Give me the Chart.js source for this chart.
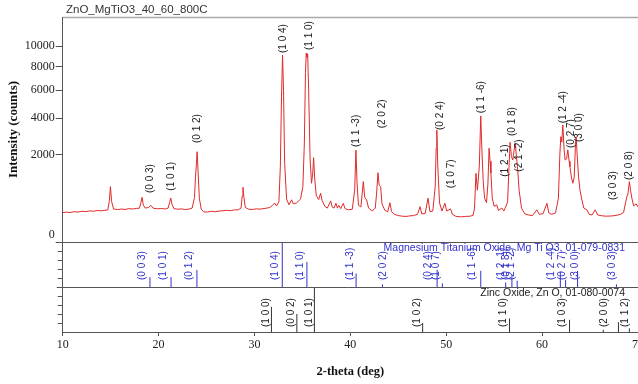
<!DOCTYPE html>
<html>
<head>
<meta charset="utf-8">
<script src="https://cdn.jsdelivr.net/npm/chart.js@4.4.0/dist/chart.umd.min.js"></script>
<style>
  html, body { margin: 0; padding: 0; background: #fff; overflow: hidden; }
</style>
</head>
<body>
<canvas id="xrd" width="638" height="384"></canvas>
<script>
// measured scan, 2-theta (deg) vs intensity (counts)
const twoTheta = [
  10.0, 10.4, 10.8, 11.2, 11.6, 12.0, 12.4, 12.8, 13.2, 13.6, 14.0, 14.4, 14.7,
  14.85, 14.98, 15.1, 15.3, 15.7, 16.1, 16.5, 16.9, 17.3, 17.7, 18.0,
  18.15, 18.28, 18.4, 18.6, 18.95, 19.2, 19.45, 19.9, 20.3, 20.7, 21.0,
  21.15, 21.27, 21.4, 21.6, 22.0, 22.4, 22.8, 23.2, 23.5,
  23.75, 23.85, 23.95, 24.02, 24.12, 24.25, 24.45, 24.7, 25.1, 25.5, 25.9,
  26.3, 26.7, 27.1, 27.5, 27.9, 28.3, 28.6, 28.72, 28.8, 28.9, 29.05, 29.4,
  29.8, 30.2, 30.6, 31.0, 31.3, 31.6, 31.85, 32.1, 32.3, 32.55,
  32.7, 32.82, 32.93, 33.03, 33.15, 33.35, 33.6, 33.87, 34.05, 34.4, 34.8,
  35.05, 35.2, 35.32, 35.4, 35.47, 35.55, 35.65, 35.8, 35.95, 36.07, 36.17, 36.27,
  36.45, 36.7, 36.9, 37.05, 37.35, 37.6, 37.95, 38.1, 38.3, 38.5, 38.65, 38.8, 39.0, 39.26, 39.45, 39.8,
  40.2, 40.45, 40.58, 40.7, 40.85, 41.1, 41.35, 41.5, 41.7, 41.9, 42.3,
  42.6, 42.75, 42.88, 43.0, 43.16, 43.3, 43.6, 43.9, 44.13, 44.3, 44.6,
  45.0, 45.4, 45.8, 46.2, 46.6, 47.0, 47.27, 47.45, 47.8, 48.1, 48.3, 48.6,
  48.85, 48.95, 49.02, 49.12, 49.3, 49.55, 49.86, 50.05, 50.45, 50.65, 51.0, 51.5, 52.0, 52.5, 52.8,
  52.95, 53.1, 53.25, 53.45, 53.6, 53.72, 53.85, 54.0, 54.2, 54.35, 54.47, 54.57, 54.66, 54.8, 55.0,
  55.27, 55.45, 55.8, 56.0, 56.2, 56.4, 56.55, 56.66, 56.8, 56.94, 57.08, 57.2, 57.32, 57.43, 57.6, 57.85,
  58.2, 58.6, 59.0, 59.45, 59.7, 60.1, 60.5, 60.7, 61.0, 61.4,
  61.7, 61.85, 61.95, 62.05, 62.16, 62.3, 62.4, 62.55, 62.68, 62.82, 62.9, 63.05, 63.2, 63.35, 63.48, 63.55, 63.65, 63.8, 63.95, 64.15, 64.35,
  64.67, 64.9, 65.2, 65.53, 65.8, 66.2, 66.6, 67.1, 67.5, 67.9, 68.2, 68.5,
  68.7, 68.84, 68.95, 69.1, 69.22, 69.36, 69.55, 69.8, 70.0
];
const counts = [
  225, 232, 226, 240, 234, 246, 240, 252, 247, 258, 253, 262, 268,
  420, 800, 430, 285, 274, 283, 276, 290, 284, 294, 298,
  400, 520, 360, 300, 310, 350, 296, 288, 292, 284, 300,
  410, 505, 370, 290, 280, 286, 274, 284, 300,
  520, 1100, 1600, 2125, 1300, 500, 280, 238, 234, 246, 238,
  250, 254, 262, 256, 268, 270, 300, 550, 780, 520, 310, 280,
  276, 286, 282, 292, 300, 310, 345, 395, 340, 420,
  1500, 5500, 9100, 6000, 1600, 480, 360, 465, 380, 400, 480,
  800, 2500, 7500, 9280, 8900, 9200, 6000, 1800, 900, 1200, 1850, 1100,
  560, 470, 620, 450, 330, 300, 440, 320, 300, 390, 300, 350, 290, 390, 290, 270,
  280, 700, 2200, 900, 350, 320, 950, 520, 460, 300, 250,
  300, 650, 1250, 850, 800, 380, 260, 240, 400, 240, 200,
  182, 174, 170, 178, 182, 200, 325, 205, 212, 500, 240, 250,
  800, 2300, 3270, 1500, 400, 250, 390, 250, 285, 200, 172, 165, 170, 174, 185,
  300, 1230, 700, 1500, 4140, 2200, 1000, 500, 400, 900, 2290, 1700, 1240, 500, 330,
  360, 260, 300, 250, 320, 420, 1500, 2590, 1900, 1750, 2200, 2540, 1900, 1480, 700, 300,
  205, 190, 182, 270, 200, 210, 390, 220, 200, 220,
  500, 2000, 2890, 2600, 3570, 2200, 1750, 1800, 2210, 1700, 1480, 1100, 900, 1100, 2500, 2890, 2000, 1110, 700, 460, 300,
  270, 200, 190, 270, 190, 180, 174, 176, 180, 190, 200, 230,
  400, 535, 600, 950, 700, 500, 340, 380, 320
];

const yTicks = [0, 2000, 4000, 6000, 8000, 10000];

// peak indexing in the scan
const peakHkl = ['(0 0 3)', '(1 0 1)', '(0 1 2)', '(1 0 4)', '(1 1 0)', '(1 1 -3)', '(2 0 2)', '(0 2 4)', '(1 0 7)',
  '(1 1 -6)', '(1 2 -1)', '(0 1 8)', '(2 1 -2)', '(1 2 -4)', '(0 2 7)', '(3 0 0)', '(3 0 3)', '(2 0 8)'];
const peakAt = [19.15, 21.29, 24.0, 33.0, 35.68, 40.65, 43.34, 49.33, 50.56, 53.61, 56.11, 56.84, 57.57, 62.16, 62.99, 63.83, 67.37, 69.09];
const peakBase = [626, 686, 2554, 9308, 9606, 2352, 3369, 3268, 751, 4316, 1111, 2928, 1288, 3671, 2302, 2606, 460, 1002];

// reference pattern MgTiO3 01-079-0831
const mgHkl = ['(0 0 3)', '(1 0 1)', '(0 1 2)', '(1 0 4)', '(1 1 0)', '(1 1 -3)', '(2 0 2)', '(0 2 4)', '(1 0 7)',
  '(1 1 -6)', '(1 2 -1)', '(0 1 8)', '(2 1 -2)', '(1 2 -4)', '(0 2 7)', '(3 0 0)', '(3 0 3)'];
const mgPos = [19.1, 21.3, 24.0, 32.9, 35.47, 40.6, 43.35, 49.05, 49.6, 53.6, 56.2, 56.85, 57.4, 61.9, 62.45, 63.7, 67.75];
const mgRel = [22, 22, 38, 100, 56, 30, 6, 38, 8, 36, 10, 26, 14, 34, 16, 36, 6];
const mgLabelAt = [18.3, 20.46, 23.19, 32.13, 34.77, 39.95, 43.47, 48.16, 48.92, 52.72, 55.69, 56.22, 56.74, 61.0, 62.15, 63.46, 67.27];

// reference pattern ZnO 01-080-0074
const znHkl = ['(1 0 0)', '(0 0 2)', '(1 0 1)', '(1 0 2)', '(1 1 0)', '(1 0 3)', '(2 0 0)', '(1 1 2)', ''];
const znPos = [31.77, 34.42, 36.25, 47.54, 56.6, 62.86, 66.38, 67.96, 69.1];
const znRel = [56, 40, 100, 20, 30, 27, 5, 22, 8];
const znLabelAt = [31.27, 33.8, 35.68, 46.94, 55.98, 62.1, 66.53, 68.72, null];

const RED = '#e02a2a';
const BLUE = '#3333cc';
const INK = '#222';
const AXIS = '#555';

function sticks(pos, rel) {
  const pts = [];
  pos.forEach((p, i) => {
    pts.push({x: p, y: 0}, {x: p, y: rel[i]}, {x: p, y: null});
  });
  return pts;
}

function hline(ctx, x1, x2, y) {
  ctx.beginPath();
  ctx.moveTo(x1, y);
  ctx.lineTo(x2, y);
  ctx.stroke();
}

function vText(ctx, text, cx, bottom) {
  ctx.save();
  ctx.translate(cx, bottom);
  ctx.rotate(-Math.PI / 2);
  ctx.textAlign = 'left';
  ctx.textBaseline = 'middle';
  ctx.fillText(text, 0, 0);
  ctx.restore();
}

const decor = {
  id: 'decor',
  beforeDraw(chart) {
    const ctx = chart.ctx;
    ctx.save();
    ctx.fillStyle = '#fff';
    ctx.fillRect(0, 0, chart.width, chart.height);
    ctx.restore();
  },
  afterDraw(chart) {
    const {ctx, chartArea: a, scales} = chart;
    const x = scales.x, y = scales.y, ym = scales.yMg, yz = scales.yZn;
    ctx.save();

    // frame top
    ctx.strokeStyle = '#a8a8a8';
    ctx.lineWidth = 1.5;
    hline(ctx, a.left, a.right, a.top + 0.5);

    // panel separators and small ticks
    ctx.strokeStyle = AXIS;
    ctx.lineWidth = 1;
    hline(ctx, a.left - 6, a.right, Math.round(ym.getPixelForValue(100)) + 0.5);
    hline(ctx, a.left - 6, a.right, Math.round(yz.getPixelForValue(100)) + 0.5);
    [20, 40, 60, 80].forEach(v => {
      hline(ctx, a.left - 5, a.left, Math.round(ym.getPixelForValue(v)) + 0.5);
      hline(ctx, a.left - 5, a.left, Math.round(yz.getPixelForValue(v)) + 0.5);
    });

    // titles
    ctx.fillStyle = '#333';
    ctx.font = '11.5px "Liberation Sans", Arial, sans-serif';
    ctx.textAlign = 'left';
    ctx.textBaseline = 'middle';
    ctx.fillText('ZnO_MgTiO3_40_60_800C', 66, 10);

    ctx.save();
    ctx.translate(14, (y.getPixelForValue(0) + a.top) / 2);
    ctx.rotate(-Math.PI / 2);
    ctx.textAlign = 'center';
    ctx.fillStyle = '#111';
    ctx.font = 'bold 13px "Liberation Serif", "Times New Roman", serif';
    ctx.fillText('Intensity (counts)', 0, 0);
    ctx.restore();

    ctx.font = '10.5px "Liberation Sans", Arial, sans-serif';
    ctx.textAlign = 'right';
    ctx.fillStyle = BLUE;
    ctx.fillText('Magnesium Titanium Oxide, Mg Ti O3, 01-079-0831', a.right - 13, ym.getPixelForValue(100) + 6);
    ctx.fillStyle = INK;
    ctx.fillText('Zinc Oxide, Zn O, 01-080-0074', a.right - 13, yz.getPixelForValue(100) + 6);

    // hkl labels
    ctx.font = '10px "Liberation Sans", Arial, sans-serif';
    ctx.fillStyle = INK;
    peakHkl.forEach((t, i) => {
      vText(ctx, t, x.getPixelForValue(peakAt[i]), y.getPixelForValue(Math.sqrt(peakBase[i])));
    });
    ctx.fillStyle = BLUE;
    mgHkl.forEach((t, i) => {
      vText(ctx, t, x.getPixelForValue(mgLabelAt[i]), ym.getPixelForValue(0) - 7);
    });
    ctx.fillStyle = INK;
    znHkl.forEach((t, i) => {
      if (t) vText(ctx, t, x.getPixelForValue(znLabelAt[i]), yz.getPixelForValue(0) - 5);
    });
    ctx.restore();
  }
};

const serif12 = {family: '"Liberation Serif", "Times New Roman", serif', size: 12};

new Chart(document.getElementById('xrd'), {
  type: 'line',
  data: {
    datasets: [
      {
        data: twoTheta.map((t, i) => ({x: t, y: Math.sqrt(counts[i])})),
        yAxisID: 'y',
        borderColor: RED,
        borderWidth: 1,
        borderJoinStyle: 'round',
        pointRadius: 0,
        tension: 0
      },
      {
        data: sticks(mgPos, mgRel),
        yAxisID: 'yMg',
        borderColor: BLUE,
        borderWidth: 1,
        pointRadius: 0,
        spanGaps: false
      },
      {
        data: sticks(znPos, znRel),
        yAxisID: 'yZn',
        borderColor: '#333',
        borderWidth: 1,
        pointRadius: 0,
        spanGaps: false
      }
    ]
  },
  options: {
    responsive: false,
    devicePixelRatio: 1,
    animation: false,
    events: [],
    layout: {padding: {top: 17, right: 0, bottom: 0, left: 0}},
    scales: {
      x: {
        type: 'linear',
        min: 10,
        max: 70,
        ticks: {stepSize: 10, color: INK, font: serif12, padding: 2, maxRotation: 0},
        grid: {drawOnChartArea: false, tickLength: 4, color: AXIS},
        border: {color: AXIS},
        title: {
          display: true,
          text: '2-theta (deg)',
          color: '#111',
          font: {family: '"Liberation Serif", "Times New Roman", serif', size: 12.5, weight: 'bold'},
          padding: {top: 0, bottom: 5}
        },
        afterFit: s => { s.height = 52; s.paddingLeft = 0; s.paddingRight = 0; }
      },
      y: {
        type: 'linear',
        position: 'left',
        min: -45.94,
        max: 114.86,
        afterBuildTicks: s => { s.ticks = yTicks.map(v => ({value: Math.sqrt(v)})); },
        ticks: {
          autoSkip: false,
          color: INK,
          font: serif12,
          padding: 1,
          callback: v => {
            const c = Math.round(v * v);
            return c === 0 ? ['0', ''] : String(c);
          }
        },
        grid: {drawOnChartArea: false, tickLength: 7, color: AXIS},
        border: {color: AXIS},
        afterFit: s => { s.width = 62.7; s.paddingTop = 0; s.paddingBottom = 0; }
      },
      yMg: {type: 'linear', display: false, min: -100, max: 600},
      yZn: {type: 'linear', display: false, min: 0, max: 700}
    },
    plugins: {
      legend: {display: false},
      tooltip: {enabled: false}
    }
  },
  plugins: [decor]
});
</script>
</body>
</html>
